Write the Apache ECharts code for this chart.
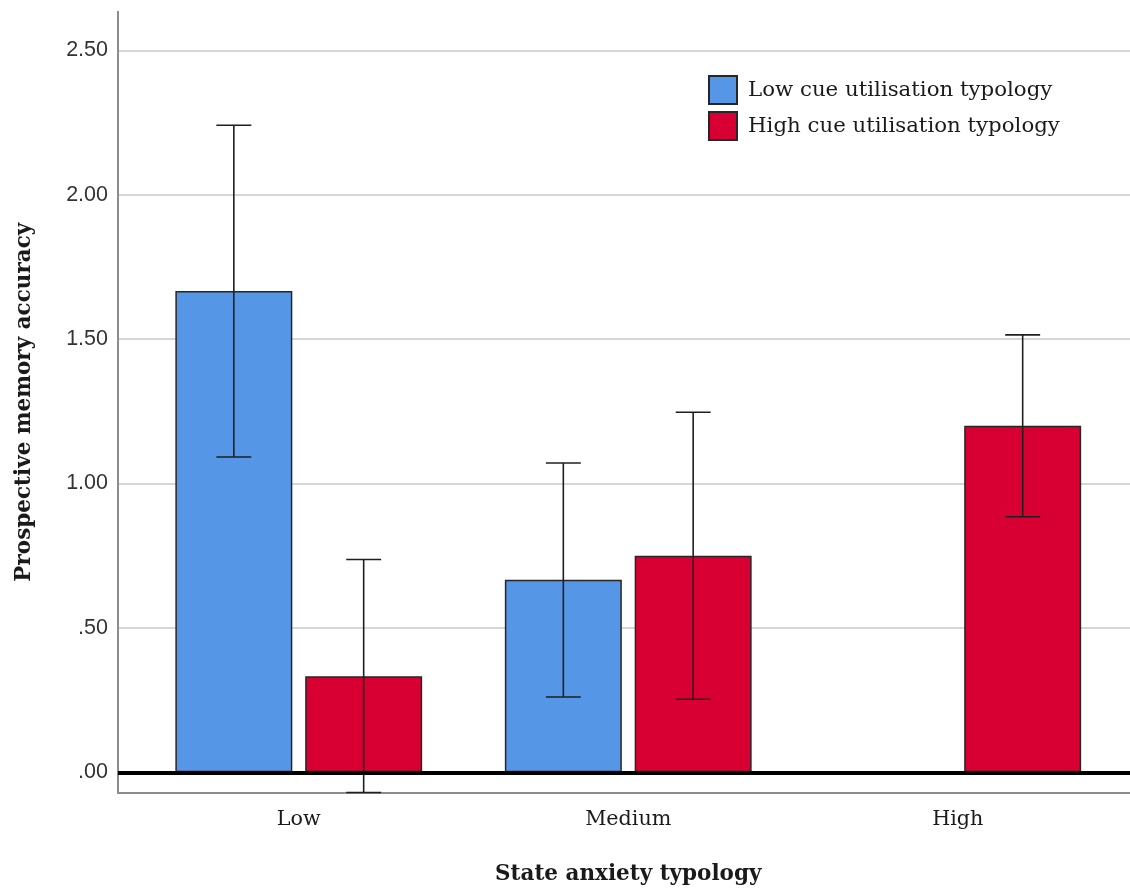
<!DOCTYPE html>
<html>
<head>
<meta charset="utf-8">
<script src="https://cdn.jsdelivr.net/npm/echarts@6/dist/echarts.min.js"></script>
<style>
html,body{margin:0;padding:0;background:#fff;}
#chart{width:1130px;height:888px;}
</style>
</head>
<body>
<div id="chart"></div>
<script>
// ---- data ----
var categories = ['Low', 'Medium', 'High'];
var seriesNames = ['Low cue utilisation typology', 'High cue utilisation typology'];
var lowCueMean  = [1.667, 0.667, null];
var lowCueLower = [1.092, 0.261, null];
var lowCueUpper = [2.241, 1.071, null];
var highCueMean  = [0.333, 0.750, 1.200];
var highCueLower = [-0.070, 0.253, 0.885];
var highCueUpper = [0.737, 1.247, 1.515];
var yTickLabels = ['.00', '.50', '1.00', '1.50', '2.00', '2.50'];

var Y_MIN = -0.0706, Y_MAX = 2.634;
var BAR_W = 0.355, BAR_GAP = 0.11;
var serifFont = 'DejaVu Serif';

function errorSeries(lower, upper, idx) {
  var data = [];
  for (var i = 0; i < categories.length; i++) {
    if (lower[i] != null) data.push([i, lower[i], upper[i]]);
  }
  return {
    type: 'custom',
    xAxisIndex: 0, yAxisIndex: 0,
    clip: false,
    z: 4,
    data: data,
    encode: {x: 0, y: [1, 2]},
    renderItem: function (params, api) {
      var c = api.value(0);
      var lo = api.coord([c, api.value(1)]);
      var hi = api.coord([c, api.value(2)]);
      var band = api.size([1, 0])[0];
      var off = band * BAR_W * (1 + BAR_GAP) / 2;
      var x = lo[0] + (idx === 0 ? -off : off);
      var capHalf = band * 0.053;
      var st = {stroke: '#1f1f1f', lineWidth: 1.6};
      return {
        type: 'group',
        children: [
          {type: 'line', shape: {x1: x, y1: lo[1], x2: x, y2: hi[1]}, style: st},
          {type: 'line', shape: {x1: x - capHalf, y1: hi[1], x2: x + capHalf, y2: hi[1]}, style: st},
          {type: 'line', shape: {x1: x - capHalf, y1: lo[1], x2: x + capHalf, y2: lo[1]}, style: st}
        ]
      };
    }
  };
}

var chart = echarts.init(document.getElementById('chart'), null, {renderer: 'canvas'});
var option = {
  backgroundColor: '#ffffff',
  animation: false,
  legend: {
    data: seriesNames,
    orient: 'vertical',
    left: 708, top: 75, padding: 0,
    itemWidth: 28, itemHeight: 28, itemGap: 6,
    icon: 'rect',
    textStyle: {fontFamily: serifFont, fontSize: 21.3, color: '#1a1a1a', padding: [3, 0, 0, 6]}
  },
  grid: [
    {left: 134, right: 7.5, top: 11.7, bottom: 95.3, outerBoundsMode: 'none', containLabel: false},
    {left: 118, right: 0, top: 11.7, bottom: 95.3, outerBoundsMode: 'none', containLabel: false}
  ],
  xAxis: [
    {
      gridIndex: 0, type: 'category', data: categories,
      axisLine: {show: false}, axisTick: {show: false},
      axisLabel: {fontFamily: serifFont, fontSize: 20.7, color: '#1a1a1a', margin: 16},
      name: 'State anxiety typology', nameLocation: 'middle', nameGap: 71,
      nameTextStyle: {fontFamily: serifFont, fontSize: 21.5, fontWeight: 'bold', color: '#1a1a1a'}
    },
    {
      gridIndex: 1, type: 'value', min: 0, max: 1, position: 'bottom',
      axisLine: {show: true, onZero: false, lineStyle: {color: '#8c8c8c', width: 2}},
      axisTick: {show: false}, axisLabel: {show: false}, splitLine: {show: false}
    }
  ],
  yAxis: [
    {
      gridIndex: 0, type: 'value', min: Y_MIN, max: Y_MAX,
      show: false, splitLine: {show: false}
    },
    {
      gridIndex: 1, type: 'value', min: Y_MIN, max: Y_MAX, splitNumber: 5,
      axisLine: {show: true, onZero: false, lineStyle: {color: '#8c8c8c', width: 2}},
      axisTick: {show: false},
      axisLabel: {
        fontFamily: 'Liberation Sans', fontSize: 21.5, color: '#333', margin: 10,
        showMinLabel: false, showMaxLabel: false,
        formatter: function (v) {
          var k = Math.round(v / 0.5);
          if (Math.abs(v - k * 0.5) > 1e-6 || k < 0 || k >= yTickLabels.length) return '';
          return yTickLabels[k];
        }
      },
      splitLine: {show: true, showMinLine: false, showMaxLine: false, lineStyle: {color: '#c8c8c8', width: 1.5}},
      name: 'Prospective memory accuracy', nameLocation: 'middle', nameGap: 83, nameRotate: 90,
      nameTextStyle: {fontFamily: serifFont, fontSize: 21.5, fontWeight: 'bold', color: '#1a1a1a'}
    }
  ],
  series: [
    {
      name: seriesNames[0], type: 'bar', xAxisIndex: 0, yAxisIndex: 0,
      data: lowCueMean, barWidth: (BAR_W * 100) + '%', barGap: (BAR_GAP * 100) + '%',
      itemStyle: {color: '#5596e6', borderColor: '#262626', borderWidth: 1.5}
    },
    {
      name: seriesNames[1], type: 'bar', xAxisIndex: 0, yAxisIndex: 0,
      data: highCueMean, barWidth: (BAR_W * 100) + '%', barGap: (BAR_GAP * 100) + '%',
      itemStyle: {color: '#d80032', borderColor: '#262626', borderWidth: 1.5}
    },
    errorSeries(lowCueLower, lowCueUpper, 0),
    errorSeries(highCueLower, highCueUpper, 1),
    {
      type: 'line', xAxisIndex: 1, yAxisIndex: 1, data: [], z: 5,
      markLine: {
        silent: true, symbol: 'none', label: {show: false},
        lineStyle: {color: '#000', width: 4, type: 'solid'},
        data: [{yAxis: 0}]
      }
    }
  ]
};
chart.setOption(option);
</script>
</body>
</html>
